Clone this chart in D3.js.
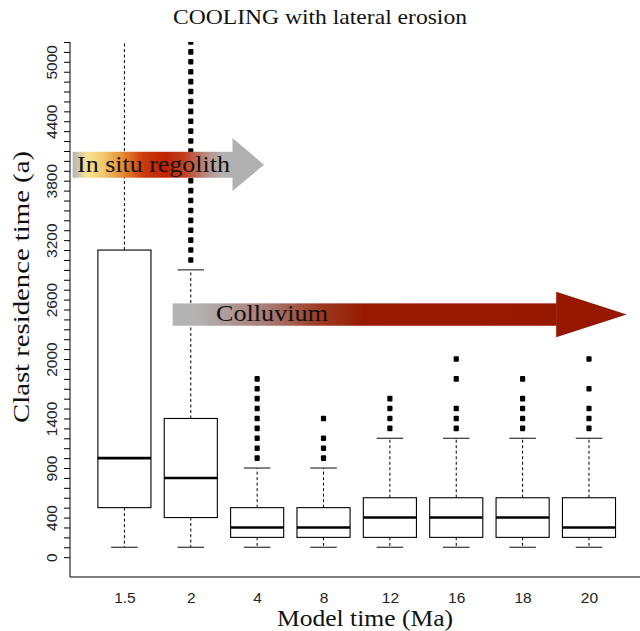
<!DOCTYPE html>
<html>
<head>
<meta charset="utf-8">
<script src="https://cdn.jsdelivr.net/npm/d3@7"></script>
<style>
  html, body { margin: 0; padding: 0; background: #fff; }
  svg { display: block; }
  .serif { font-family: "Liberation Serif", "DejaVu Serif", serif; }
  .sans { font-family: "Liberation Sans", Arial, sans-serif; }
</style>
</head>
<body>
<script>
// ---- data ----
const categories = ["1.5", "2", "4", "8", "12", "16", "18", "20"];
const whiskerLow = [100, 100, 100, 100, 100, 100, 100, 100];
const q1 = [500, 400, 200, 200, 200, 200, 200, 200];
const medians = [1000, 800, 300, 300, 400, 400, 400, 300];
const q3 = [3100, 1400, 500, 500, 600, 600, 600, 600];
const whiskerHigh = [6500, 2900, 900, 900, 1200, 1200, 1200, 1200];
const outliers = [
  [],
  [3000, 3100, 3200, 3300, 3400, 3500, 3600, 3700, 3800, 3900, 4000, 4100, 4200, 4300, 4400, 4500, 4600, 4700, 4800, 4900, 5000, 5100, 5200, 5300],
  [1000, 1100, 1200, 1300, 1400, 1500, 1600, 1700, 1800],
  [1000, 1100, 1200, 1400],
  [1300, 1400, 1500, 1600],
  [1300, 1400, 1500, 1800, 2000],
  [1300, 1400, 1500, 1600, 1800],
  [1300, 1400, 1500, 1700, 2000]
];
const yTickValues = d3.range(0, 5201, 100);
const yTickLabels = [0, 400, 900, 1400, 2000, 2600, 3200, 3800, 4400, 5000];
const titleText = "COOLING with lateral erosion";
const xLabel = "Model time (Ma)";
const yLabel = "Clast residence time (a)";
const arrowLabels = ["In situ regolith", "Colluvium"];
// arrow spans in data units (x: box index, y: residence time)
const arrowInSitu = { x0: 0.22, x1: 2.636, xTip: 3.103, y0: 3830, y1: 4092, head0: 3695, head1: 4230 };
const arrowColluvium = { x0: 1.727, x1: 7.513, xTip: 8.568, y0: 2336, y1: 2562, head0: 2219, head1: 2679 };

// ---- layout ----
const W = 640, H = 631;
const plot = { left: 70, right: 643.4, top: 42, bottom: 577 };

const svg = d3.select("body").append("svg").attr("width", W).attr("height", H);

const x = d3.scaleLinear().domain([0.18, 8.82]).range([plot.left, plot.right]);
const y = d3.scaleLinear().domain([-200, 5200]).range([plot.bottom, plot.top]);

const defs = svg.append("defs");
defs.append("clipPath").attr("id", "clip").append("rect")
  .attr("x", plot.left).attr("y", plot.top)
  .attr("width", plot.right - plot.left).attr("height", plot.bottom - plot.top);

const g1 = defs.append("linearGradient").attr("id", "gradInSitu")
  .attr("x1", "0%").attr("x2", "100%").attr("y1", "0%").attr("y2", "0%");
[[0, "#b4b4b4"], [0.03, "#c8c4b0"], [0.09, "#fae38e"], [0.19, "#f2c870"], [0.32, "#e2862e"], [0.44, "#cc3a0c"], [0.58, "#be2200"], [0.7, "#c04020"], [0.84, "#b88f88"], [0.93, "#b1b1b1"], [1, "#b0b0b0"]]
  .forEach(([o, c]) => g1.append("stop").attr("offset", o).attr("stop-color", c));

const g2 = defs.append("linearGradient").attr("id", "gradColl")
  .attr("x1", "0%").attr("x2", "100%").attr("y1", "0%").attr("y2", "0%");
[[0, "#b3b3b3"], [0.06, "#b3b3b3"], [0.25, "#a87a74"], [0.38, "#9e3a22"], [0.5, "#971a00"], [1, "#961800"]]
  .forEach(([o, c]) => g2.append("stop").attr("offset", o).attr("stop-color", c));

// ---- boxes ----
const boxW = 0.8;
const data = categories.map((c, i) => ({
  cat: c, i: i + 1, lo: whiskerLow[i], q1: q1[i], med: medians[i], q3: q3[i], hi: whiskerHigh[i], out: outliers[i]
}));

const gp = svg.append("g").attr("clip-path", "url(#clip)");

data.forEach(d => {
  const cx = x(d.i);
  const halfBox = x(d.i + boxW / 2) - cx;
  const halfCap = halfBox / 2;
  gp.append("line").attr("x1", cx).attr("x2", cx).attr("y1", y(d.q3)).attr("y2", y(d.hi))
    .attr("stroke", "#000").attr("stroke-width", 1).attr("stroke-dasharray", "3,2.5");
  gp.append("line").attr("x1", cx).attr("x2", cx).attr("y1", y(d.q1)).attr("y2", y(d.lo))
    .attr("stroke", "#000").attr("stroke-width", 1).attr("stroke-dasharray", "3,2.5");
  [d.lo, d.hi].forEach(v => gp.append("line")
    .attr("x1", cx - halfCap).attr("x2", cx + halfCap).attr("y1", y(v)).attr("y2", y(v))
    .attr("stroke", "#333").attr("stroke-width", 1.2));
  gp.append("rect").attr("x", cx - halfBox).attr("y", y(d.q3))
    .attr("width", 2 * halfBox).attr("height", y(d.q1) - y(d.q3))
    .attr("fill", "#fff").attr("stroke", "#000").attr("stroke-width", 1.1);
  gp.append("line").attr("x1", cx - halfBox).attr("x2", cx + halfBox)
    .attr("y1", y(d.med)).attr("y2", y(d.med)).attr("stroke", "#000").attr("stroke-width", 2.6);
  gp.selectAll(null).data(d.out).enter().append("rect")
    .attr("x", cx - 2.6).attr("y", v => y(v) - 2.8).attr("width", 5.2).attr("height", 5.6)
    .attr("rx", 1).attr("fill", "#000");
});

// ---- arrows ----
function arrow(a, fillId, headColor, label, textX, textLen, fontSize) {
  const gA = svg.append("g");
  gA.append("rect").attr("x", x(a.x0)).attr("y", y(a.y1))
    .attr("width", x(a.x1) - x(a.x0)).attr("height", y(a.y0) - y(a.y1))
    .attr("fill", `url(#${fillId})`);
  const midY = (y(a.y0) + y(a.y1)) / 2;
  gA.append("path")
    .attr("d", `M${x(a.x1) - 0.5},${y(a.head1)} L${x(a.xTip)},${midY} L${x(a.x1) - 0.5},${y(a.head0)} Z`)
    .attr("fill", headColor);
  gA.append("text").attr("class", "serif").attr("x", textX).attr("y", midY + fontSize * 0.3)
    .attr("font-size", fontSize).attr("fill", "#111")
    .attr("textLength", textLen).attr("lengthAdjust", "spacingAndGlyphs").text(label);
}
arrow(arrowInSitu, "gradInSitu", "#b0b0b0", arrowLabels[0], 77, 153, 23);
arrow(arrowColluvium, "gradColl", "#961800", arrowLabels[1], 216, 112, 23);

// ---- axes ----
const yAxis = d3.axisLeft(y).tickValues(yTickValues).tickSize(6).tickSizeOuter(0)
  .tickFormat(v => yTickLabels.includes(v) ? String(v) : "");
const gy = svg.append("g").attr("transform", `translate(${plot.left},0)`).call(yAxis);
gy.select(".domain").attr("d", `M0,${plot.top}V${plot.bottom}`).attr("stroke", "#000");
gy.selectAll(".tick line").attr("stroke", "#000");
gy.selectAll(".tick text").attr("class", "sans").attr("font-size", 15.5).attr("fill", "#222")
  .attr("transform", "rotate(-90)").attr("x", 0).attr("y", -13).attr("dy", 0)
  .attr("text-anchor", "middle");

const xAxis = d3.axisBottom(x).tickValues(d3.range(1, categories.length + 1)).tickSize(0)
  .tickFormat(i => categories[i - 1]);
const gx = svg.append("g").attr("transform", `translate(0,${plot.bottom})`).call(xAxis);
gx.select(".domain").attr("d", `M${plot.left},0H${plot.right}`).attr("stroke", "#000");
gx.selectAll(".tick text").attr("class", "sans").attr("font-size", 15.5).attr("fill", "#222")
  .attr("y", 26).attr("dy", 0);

// ---- titles ----
svg.append("text").attr("class", "serif").attr("x", 320).attr("y", 24)
  .attr("text-anchor", "middle").attr("font-size", 21).attr("fill", "#111")
  .attr("textLength", 294).attr("lengthAdjust", "spacingAndGlyphs").text(titleText);
svg.append("text").attr("class", "serif").attr("x", 365).attr("y", 626)
  .attr("text-anchor", "middle").attr("font-size", 22.5).attr("fill", "#111")
  .attr("textLength", 176).attr("lengthAdjust", "spacingAndGlyphs").text(xLabel);
svg.append("text").attr("class", "serif").attr("transform", `translate(29,287) rotate(-90)`)
  .attr("text-anchor", "middle").attr("font-size", 24).attr("fill", "#111")
  .attr("textLength", 272).attr("lengthAdjust", "spacingAndGlyphs").text(yLabel);
</script>
</body>
</html>
